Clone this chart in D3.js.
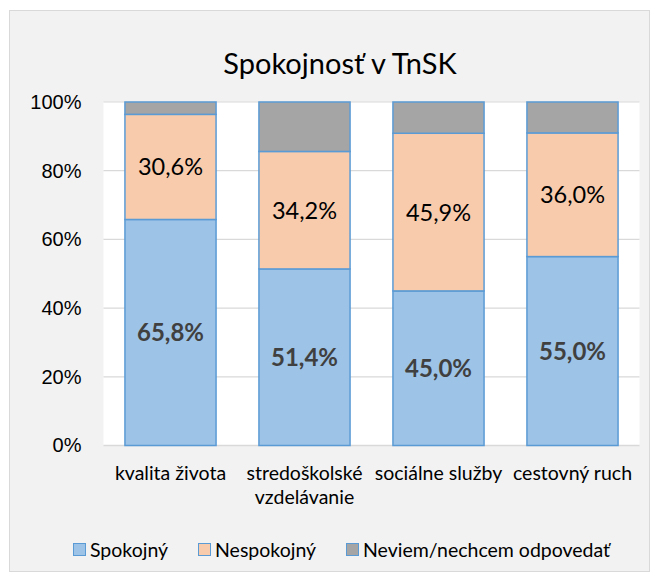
<!DOCTYPE html>
<html>
<head>
<meta charset="utf-8">
<script src="https://cdn.jsdelivr.net/npm/d3@7"></script>
<style>
  body { margin: 0; background: #fff; }
  svg { font-family: Lato, "Open Sans", sans-serif; }
</style>
</head>
<body>
<svg width="658" height="581"></svg>
<script>
const categories = [["kvalita života"], ["stredoškolské", "vzdelávanie"], ["sociálne služby"], ["cestovný ruch"]];
const seriesNames = ["Spokojný", "Nespokojný", "Neviem/nechcem odpovedať"];
const spokojny = [65.8, 51.4, 45.0, 55.0];
const nespokojny = [30.6, 34.2, 45.9, 36.0];
const neviem = [3.6, 14.4, 9.1, 9.0];
const yTicks = [0, 20, 40, 60, 80, 100];

const colors = ["#9dc3e6", "#f8cbad", "#a5a5a5"];
const stroke = "#5b9bd5";

const svg = d3.select("svg");

// chart background
svg.append("rect")
    .attr("x", 9.5).attr("y", 10.5)
    .attr("width", 640).attr("height", 561)
    .attr("fill", "#f2f2f2")
    .attr("stroke", "#d9d9d9");

svg.append("text")
    .attr("x", 340).attr("y", 74)
    .attr("text-anchor", "middle")
    .attr("font-size", 29)
    .attr("fill", "#000")
    .text("Spokojnosť v TnSK");

const margin = {left: 103.5, right: 639.5, top: 102, bottom: 445.5};

const x = d3.scaleBand()
    .domain(d3.range(categories.length))
    .range([margin.left, margin.right])
    .paddingInner(0.32)
    .paddingOuter(0.16);

const y = d3.scaleLinear().domain([0, 100]).range([margin.bottom, margin.top]);

svg.append("rect")
    .attr("x", margin.left).attr("y", margin.top)
    .attr("width", margin.right - margin.left).attr("height", margin.bottom - margin.top)
    .attr("fill", "#fff");

// gridlines
svg.append("g")
    .selectAll("line").data(yTicks).join("line")
    .attr("x1", margin.left).attr("x2", margin.right)
    .attr("y1", d => y(d)).attr("y2", d => y(d))
    .attr("stroke", "#d9d9d9")
    .attr("stroke-width", d => d === 0 ? 1.5 : 1.2);

// y axis
const yAxis = svg.append("g")
    .attr("transform", `translate(${margin.left},0)`)
    .call(d3.axisLeft(y).tickValues(yTicks).tickFormat(d => d + "%").tickSize(0).tickPadding(22));
yAxis.select(".domain").remove();
yAxis.selectAll("text").attr("font-size", 20).attr("fill", "#000").attr("font-family", null);

const table = categories.map((c, i) => ({i, Spokojný: spokojny[i], Nespokojný: nespokojny[i], "Neviem/nechcem odpovedať": neviem[i]}));
const stacked = d3.stack().keys(seriesNames)(table);

const groups = svg.append("g").selectAll("g").data(stacked).join("g")
    .attr("fill", (d, i) => colors[i]);

groups.selectAll("rect").data(d => d).join("rect")
    .attr("x", d => x(d.data.i))
    .attr("width", x.bandwidth())
    .attr("y", d => y(d[1]))
    .attr("height", d => y(d[0]) - y(d[1]))
    .attr("stroke", stroke)
    .attr("stroke-width", 1.5);

// data labels
const fmt = v => v.toFixed(1).replace(".", ",") + "%";
stacked.slice(0, 2).forEach((s, k) => {
    svg.append("g").selectAll("text").data(s).join("text")
        .attr("x", d => x(d.data.i) + x.bandwidth() / 2)
        .attr("y", d => (y(d[0]) + y(d[1])) / 2)
        .attr("dy", "0.36em")
        .attr("text-anchor", "middle")
        .attr("font-size", k === 0 ? 24 : 23.5)
        .attr("font-weight", k === 0 ? "bold" : "normal")
        .attr("fill", k === 0 ? "#404040" : "#000")
        .text(d => fmt(d.data[s.key]));
});

// category labels
const xl = svg.append("g").selectAll("text").data(categories).join("text")
    .attr("x", (d, i) => x(i) + x.bandwidth() / 2)
    .attr("y", 480)
    .attr("text-anchor", "middle")
    .attr("font-size", 19.5)
    .attr("fill", "#000");
xl.selectAll("tspan").data(d => d).join("tspan")
    .attr("x", function() { return this.parentNode.getAttribute("x"); })
    .attr("dy", (d, j) => j === 0 ? 0 : 23.5)
    .text(d => d);

// legend
const legendX = [73, 198, 346];
const leg = svg.append("g").selectAll("g").data(seriesNames).join("g")
    .attr("transform", (d, i) => `translate(${legendX[i]},550)`);
leg.append("rect")
    .attr("x", 0.5).attr("y", -6.5).attr("width", 12).attr("height", 12)
    .attr("fill", (d, i) => colors[i])
    .attr("stroke", stroke).attr("stroke-width", 1);
leg.append("text")
    .attr("x", 17).attr("dy", "0.35em")
    .attr("font-size", 19.5)
    .attr("fill", "#000")
    .text(d => d);
</script>
</body>
</html>
